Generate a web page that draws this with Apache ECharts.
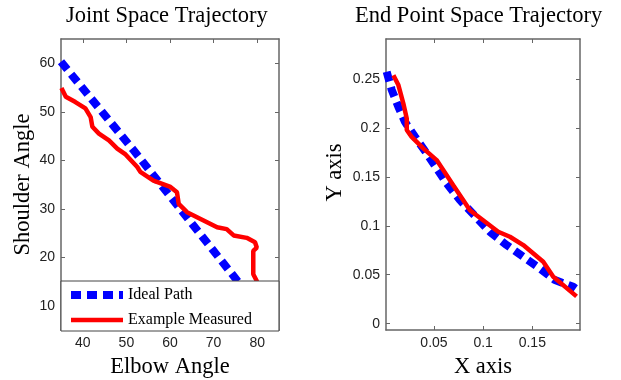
<!DOCTYPE html>
<html lang="en">
<head>
    <meta charset="UTF-8">
    <title>Trajectories</title>
    <script src="https://cdn.jsdelivr.net/npm/echarts@6/dist/echarts.min.js"></script>
    <style>
        html, body { margin: 0; padding: 0; background: #fff; }
        #chart { width: 621px; height: 380px; }
    </style>
</head>
<body>
<div id="chart"></div>
<script>
    // joint space (elbow / shoulder angles)
    var elbowIdeal = [35, 51.7, 80];
    var shoulderIdeal = [60.3, 42.0, 10];
    var elbowMeasured = [35.1, 36.1, 38.3, 40.6, 41.8, 42.2, 43.7, 46.0, 47.9, 49.8, 52.5, 53.2, 56.2, 60.1, 61.6, 62.0, 63.9, 67.7, 70.8, 73.0, 74.6, 77.6, 79.5, 79.9, 79.1, 79.1, 79.9, 80.2];
    var shoulderMeasured = [54.9, 53.1, 52.0, 50.7, 48.9, 46.9, 45.5, 44.1, 42.4, 41.2, 38.6, 37.6, 35.8, 34.5, 33.4, 31.0, 29.3, 27.6, 26.2, 25.8, 24.5, 24.0, 23.1, 22.0, 21.3, 16.5, 15.1, 13.0];

    // end point space
    var xIdeal = [0.0019, 0.007, 0.0138, 0.0205, 0.0307, 0.0426, 0.0629, 0.0764, 0.1069, 0.1239, 0.1408, 0.1577, 0.1730, 0.1916, 0.194];
    var yIdeal = [0.2575, 0.239, 0.2217, 0.2063, 0.191, 0.174, 0.1434, 0.1263, 0.0939, 0.0803, 0.0683, 0.0564, 0.0445, 0.0377, 0.036];
    var xMeasured = [0.0087, 0.0138, 0.0188, 0.0223, 0.0223, 0.0273, 0.0391, 0.0527, 0.0696, 0.0866, 0.1153, 0.1272, 0.1408, 0.1611, 0.1713, 0.1950];
    var yMeasured = [0.254, 0.2439, 0.2252, 0.2098, 0.198, 0.191, 0.1792, 0.1672, 0.1416, 0.116, 0.0939, 0.0888, 0.0803, 0.0632, 0.0479, 0.0279];

    // tick labels
    var elbowTicks = [40, 50, 60, 70, 80];
    var shoulderTicks = [10, 20, 30, 40, 50, 60];
    var xTicks = [0.05, 0.1, 0.15];
    var yTicks = [0, 0.05, 0.1, 0.15, 0.2, 0.25];

    function pairs(a, b) {
        var out = [];
        for (var i = 0; i < a.length; i++) {
            out.push([a[i], b[i]]);
        }
        return out;
    }

    var boxColor = '#666';
    var serif = 'Liberation Serif';
    var dashStyle = { color: '#0000ff', width: 8, type: [10, 6], cap: 'butt' };
    var solidStyle = { color: '#ff0000', width: 4.5 };

    // main axis with labels
    function axis(grid, pos, min, max, ticks, name, gap, namePad) {
        return {
            type: 'value', gridIndex: grid, position: pos, min: min, max: max,
            name: name, nameLocation: 'middle', nameGap: gap,
            nameTextStyle: { fontFamily: serif, fontSize: 22.5, color: '#000', padding: namePad || 0 },
            axisLine: { show: true, onZero: false, lineStyle: { color: boxColor, width: 1.5 } },
            axisTick: { show: true, inside: true, length: 4, customValues: ticks, lineStyle: { color: boxColor } },
            axisLabel: { show: true, customValues: ticks, margin: 6, fontFamily: 'Liberation Sans', fontSize: 14, color: '#222' },
            splitLine: { show: false }
        };
    }
    // opposite side: box edge + ticks only
    function edge(grid, pos, min, max, ticks) {
        return {
            type: 'value', gridIndex: grid, position: pos, min: min, max: max,
            axisLine: { show: true, onZero: false, lineStyle: { color: boxColor, width: 1.5 } },
            axisTick: { show: true, inside: true, length: 4, customValues: ticks, lineStyle: { color: boxColor } },
            axisLabel: { show: false },
            splitLine: { show: false }
        };
    }

    var myChart = echarts.init(document.getElementById('chart'));

    var option = {
        animation: false,
        title: [{
            text: 'Joint Space Trajectory', left: 66, top: 5, padding: 0,
            textStyle: { fontFamily: serif, fontSize: 22.5, fontWeight: 'normal', color: '#000' }
        }, {
            text: 'End Point Space Trajectory', left: 355, top: 5, padding: 0,
            textStyle: { fontFamily: serif, fontSize: 22.5, fontWeight: 'normal', color: '#000' }
        }],
        legend: {
            orient: 'vertical', left: 61, top: 281,
            padding: [6, 27, 3, 6],
            itemWidth: 52, itemHeight: 14, itemGap: 9,
            backgroundColor: '#fff', borderColor: '#444', borderWidth: 1,
            textStyle: { fontFamily: serif, fontSize: 16, color: '#000' },
            data: [
                { name: 'Ideal Path', itemStyle: { opacity: 0 }, lineStyle: dashStyle },
                { name: 'Example Measured', itemStyle: { opacity: 0 }, lineStyle: solidStyle }
            ],
            z: 10
        },
        grid: [
            { left: 61, top: 39, width: 218, height: 291, outerBoundsMode: 'none' },
            { left: 386, top: 39, width: 194, height: 291, outerBoundsMode: 'none' }
        ],
        xAxis: [
            axis(0, 'bottom', 35, 85, elbowTicks, 'Elbow Angle', 26),
            edge(0, 'top', 35, 85, elbowTicks),
            axis(1, 'bottom', 0.0012, 0.1985, xTicks, 'X axis', 26),
            edge(1, 'top', 0.0012, 0.1985, xTicks)
        ],
        yAxis: [
            axis(0, 'left', 5, 65, shoulderTicks, 'Shoulder Angle', 26),
            edge(0, 'right', 5, 65, shoulderTicks),
            axis(1, 'left', -0.0065, 0.291, yTicks, 'Y axis', 39, [0, 0, 0, 24]),
            edge(1, 'right', -0.0065, 0.291, yTicks)
        ],
        series: [{
            name: 'Ideal Path', type: 'line', xAxisIndex: 0, yAxisIndex: 0,
            showSymbol: false, symbol: 'none', color: '#0000ff',
            lineStyle: dashStyle,
            data: pairs(elbowIdeal, shoulderIdeal)
        }, {
            name: 'Example Measured', type: 'line', xAxisIndex: 0, yAxisIndex: 0,
            showSymbol: false, symbol: 'none', color: '#ff0000',
            lineStyle: solidStyle,
            data: pairs(elbowMeasured, shoulderMeasured)
        }, {
            name: 'Ideal Path', type: 'line', xAxisIndex: 2, yAxisIndex: 2,
            showSymbol: false, symbol: 'none', color: '#0000ff',
            lineStyle: dashStyle,
            data: pairs(xIdeal, yIdeal)
        }, {
            name: 'Example Measured', type: 'line', xAxisIndex: 2, yAxisIndex: 2,
            showSymbol: false, symbol: 'none', color: '#ff0000',
            lineStyle: solidStyle,
            data: pairs(xMeasured, yMeasured)
        }]
    };
    myChart.setOption(option);
</script>
</body>
</html>
